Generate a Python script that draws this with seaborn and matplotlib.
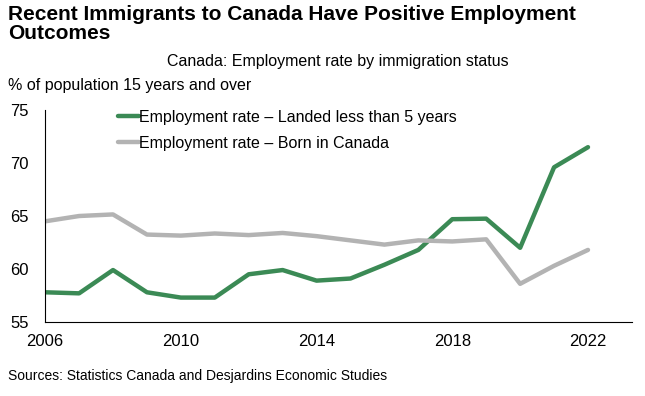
import numpy as np
import pandas as pd
import matplotlib.pyplot as plt
import seaborn as sns

years = list(range(2006, 2023))
landed = [57.8, 57.7, 59.9, 57.8, 57.3, 57.3, 59.5, 59.9, 58.9, 59.1, 60.4, 61.8, 64.7, 64.75, 62.0, 69.6, 71.5]
born = [64.5, 65.0, 65.15, 63.25, 63.15, 63.35, 63.2, 63.4, 63.1, 62.7, 62.3, 62.7, 62.6, 62.8, 58.6, 60.3, 61.8]
labels = ['Employment rate – Landed less than 5 years', 'Employment rate – Born in Canada']
xticks = [2006, 2010, 2014, 2018, 2022]

df = pd.DataFrame({'year': years * 2,
                   'rate': landed + born,
                   'series': [labels[0]] * len(years) + [labels[1]] * len(years)})

sns.set_style('white')
plt.rcParams['font.family'] = ['Liberation Sans', 'DejaVu Sans']
plt.rcParams['text.color'] = 'black'
plt.rcParams['xtick.color'] = 'black'
plt.rcParams['ytick.color'] = 'black'

fig = plt.figure(figsize=(6.45, 3.96), dpi=100)
ax = fig.add_axes([0.07, 0.187, 0.91, 0.535])

sns.lineplot(data=df, x='year', y='rate', hue='series',
             palette={labels[0]: '#3b8a55', labels[1]: '#b3b3b3'},
             linewidth=3.2, ax=ax)

ax.set_xlim(2006, 2023.3)
ax.set_ylim(55, 75)
ax.set_xticks(xticks)
ax.set_yticks([55, 60, 65, 70, 75])
ax.tick_params(axis='x', labelsize=12, length=0, pad=9)
ax.tick_params(axis='y', labelsize=12, length=4, direction='out', width=0.8, pad=8)
ax.set_xlabel('')
ax.set_ylabel('')
for s in ['top', 'right']:
    ax.spines[s].set_visible(False)
for s in ['left', 'bottom']:
    ax.spines[s].set_color('black')
    ax.spines[s].set_linewidth(0.8)

ax.legend(loc='upper left', bbox_to_anchor=(0.1, 1.07), frameon=False,
          fontsize=11.5, handlelength=1.3, handletextpad=0.0, labelspacing=0.7)

fig.text(0.012, 0.988, 'Recent Immigrants to Canada Have Positive Employment\nOutcomes',
         fontsize=15, fontweight='bold', va='top', linespacing=1.0)
fig.text(0.524, 0.845, 'Canada: Employment rate by immigration status', fontsize=11.5, ha='center', va='center')
fig.text(0.012, 0.785, '% of population 15 years and over', fontsize=11.5, va='center')
fig.text(0.012, 0.05, 'Sources: Statistics Canada and Desjardins Economic Studies', fontsize=10, va='center')

fig.savefig('out.png', dpi=100)
